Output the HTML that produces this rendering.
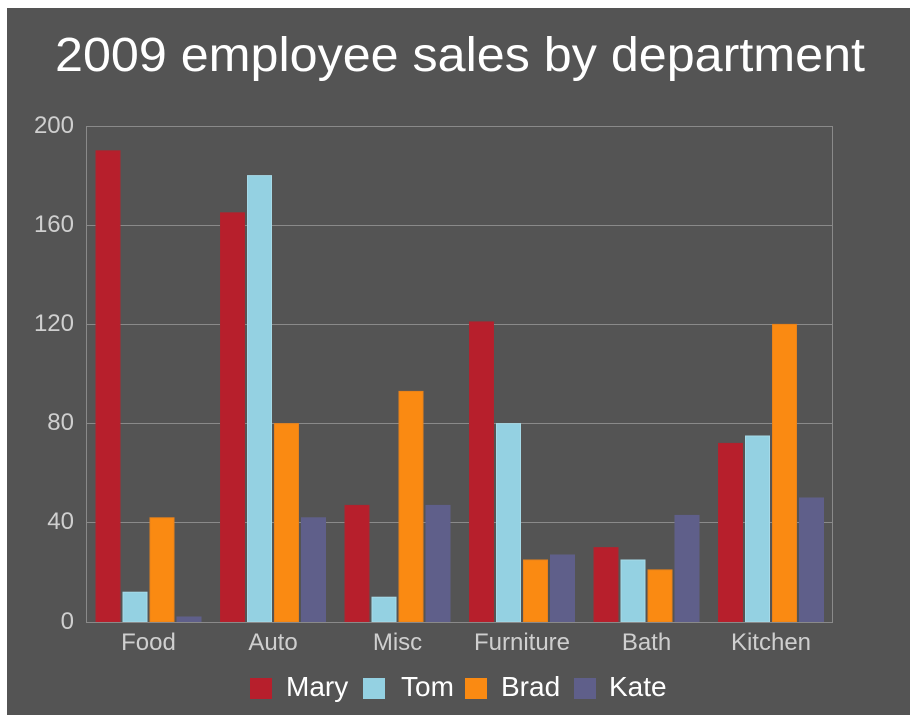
<!DOCTYPE html>
<html><head><meta charset="utf-8"><style>
html,body{margin:0;padding:0;background:#fff;}
svg{display:block;}
text{font-family:"Liberation Sans",Arial,sans-serif;}
</style></head><body>
<svg width="914" height="720" viewBox="0 0 914 720" xmlns="http://www.w3.org/2000/svg">
<rect x="0" y="0" width="914" height="720" fill="#ffffff"/>
<rect x="7" y="8" width="903" height="707" fill="#545454"/>
<text x="460" y="71" text-anchor="middle" font-size="48" fill="#ffffff" textLength="810" lengthAdjust="spacingAndGlyphs">2009 employee sales by department</text>
<g stroke="#8a8a8a" stroke-width="1" fill="none">
<line x1="86" y1="126.5" x2="833" y2="126.5"/>
<line x1="86" y1="225.5" x2="833" y2="225.5"/>
<line x1="86" y1="324.5" x2="833" y2="324.5"/>
<line x1="86" y1="423.5" x2="833" y2="423.5"/>
<line x1="86" y1="522.5" x2="833" y2="522.5"/>
<line x1="86" y1="622.5" x2="833" y2="622.5"/>
<line x1="86.5" y1="126" x2="86.5" y2="622"/>
<line x1="832.5" y1="126" x2="832.5" y2="622"/>
</g>
<g font-size="24" fill="#cfcfcf" text-anchor="end">
<text x="74" y="133">200</text>
<text x="74" y="232">160</text>
<text x="74" y="331">120</text>
<text x="74" y="430">80</text>
<text x="74" y="529">40</text>
<text x="74" y="629">0</text>
</g>
<g font-size="24" fill="#cfcfcf" text-anchor="middle">
<text x="148.5" y="650">Food</text>
<text x="273" y="650">Auto</text>
<text x="397.5" y="650">Misc</text>
<text x="522" y="650">Furniture</text>
<text x="646.5" y="650">Bath</text>
<text x="771" y="650">Kitchen</text>
</g>
<g id="bars"></g>
<g stroke-width="1">
<!-- Food -->
<rect x="96" y="150.8" width="24" height="471.2" fill="#b71f2c" stroke="#b0232e"/>
<rect x="123" y="592.2" width="24" height="29.8" fill="#94d1e2" stroke="#a6dae8"/>
<rect x="150" y="517.8" width="24" height="104.2" fill="#fa8a12" stroke="#e8821a"/>
<rect x="177" y="617" width="24" height="5" fill="#5f5f8a" stroke="#5f5f8a"/>
<!-- Auto -->
<rect x="220.5" y="212.8" width="24" height="409.2" fill="#b71f2c" stroke="#b0232e"/>
<rect x="247.5" y="175.6" width="24" height="446.4" fill="#94d1e2" stroke="#a6dae8"/>
<rect x="274.5" y="423.6" width="24" height="198.4" fill="#fa8a12" stroke="#e8821a"/>
<rect x="301.5" y="517.8" width="24" height="104.2" fill="#5f5f8a" stroke="#5f5f8a"/>
<!-- Misc -->
<rect x="345" y="505.4" width="24" height="116.6" fill="#b71f2c" stroke="#b0232e"/>
<rect x="372" y="597.2" width="24" height="24.8" fill="#94d1e2" stroke="#a6dae8"/>
<rect x="399" y="391.4" width="24" height="230.6" fill="#fa8a12" stroke="#e8821a"/>
<rect x="426" y="505.4" width="24" height="116.6" fill="#5f5f8a" stroke="#5f5f8a"/>
<!-- Furniture -->
<rect x="469.5" y="321.9" width="24" height="300.1" fill="#b71f2c" stroke="#b0232e"/>
<rect x="496.5" y="423.6" width="24" height="198.4" fill="#94d1e2" stroke="#a6dae8"/>
<rect x="523.5" y="560" width="24" height="62" fill="#fa8a12" stroke="#e8821a"/>
<rect x="550.5" y="555" width="24" height="67" fill="#5f5f8a" stroke="#5f5f8a"/>
<!-- Bath -->
<rect x="594" y="547.6" width="24" height="74.4" fill="#b71f2c" stroke="#b0232e"/>
<rect x="621" y="560" width="24" height="62" fill="#94d1e2" stroke="#a6dae8"/>
<rect x="648" y="569.9" width="24" height="52.1" fill="#fa8a12" stroke="#e8821a"/>
<rect x="675" y="515.4" width="24" height="106.6" fill="#5f5f8a" stroke="#5f5f8a"/>
<!-- Kitchen -->
<rect x="718.5" y="443.4" width="24" height="178.6" fill="#b71f2c" stroke="#b0232e"/>
<rect x="745.5" y="436" width="24" height="186" fill="#94d1e2" stroke="#a6dae8"/>
<rect x="772.5" y="324.4" width="24" height="297.6" fill="#fa8a12" stroke="#e8821a"/>
<rect x="799.5" y="498" width="24" height="124" fill="#5f5f8a" stroke="#5f5f8a"/>
</g>
<line x1="86" y1="622.5" x2="833" y2="622.5" stroke="#8a8a8a" stroke-width="1"/>
<g>
<rect x="250" y="678" width="22" height="21" fill="#b71f2c"/>
<text x="286" y="696" font-size="28" fill="#ffffff">Mary</text>
<rect x="363" y="678" width="22" height="21" fill="#94d1e2"/>
<text x="401" y="696" font-size="28" fill="#ffffff">Tom</text>
<rect x="465" y="678" width="22" height="21" fill="#fa8a12"/>
<text x="501" y="696" font-size="28" fill="#ffffff">Brad</text>
<rect x="574" y="678" width="22" height="21" fill="#5f5f8a"/>
<text x="609" y="696" font-size="28" fill="#ffffff">Kate</text>
</g>
</svg>
</body></html>
